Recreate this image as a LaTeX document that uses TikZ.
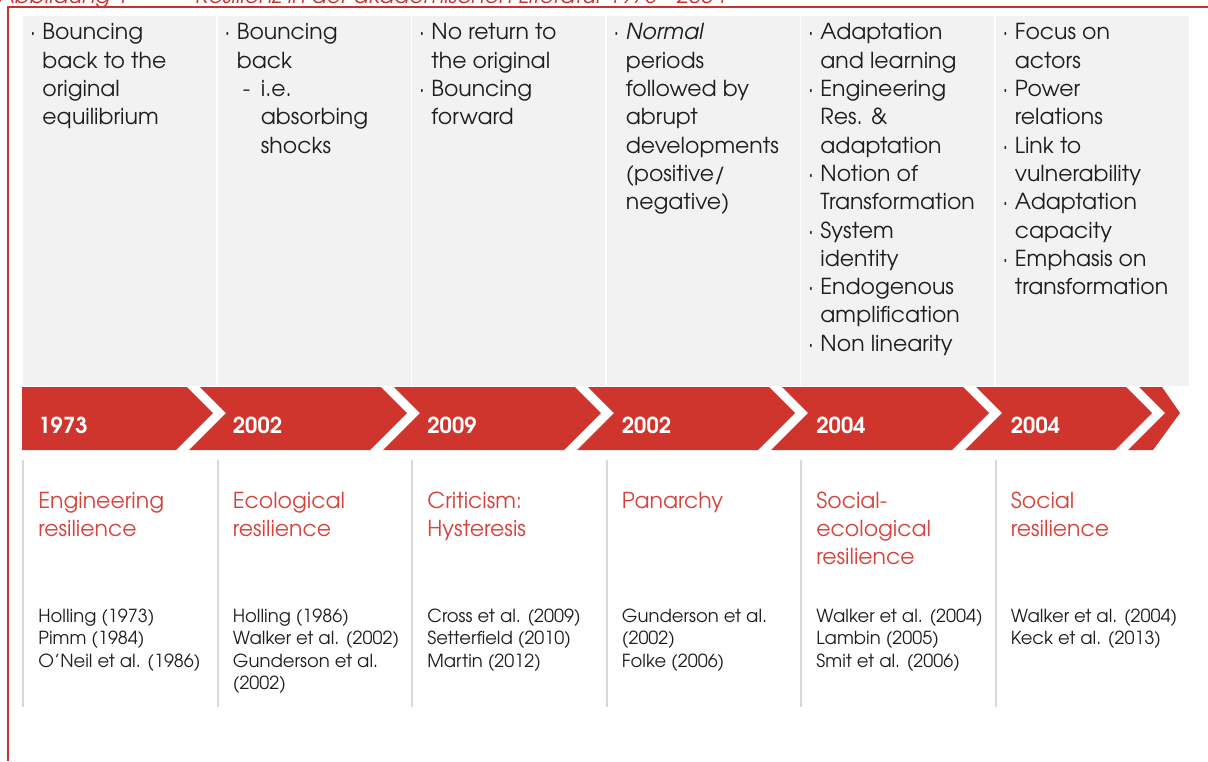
\documentclass[tikz,border=0pt]{standalone}
\usepackage{fontspec}
\setmainfont{texgyreadventor-regular.otf}[BoldFont=texgyreadventor-bold.otf,ItalicFont=texgyreadventor-italic.otf]
\usepackage{tikz}
\usetikzlibrary{calc}
\definecolor{bandred}{RGB}{207,52,45}
\definecolor{headred}{RGB}{214,66,60}
\definecolor{framered}{RGB}{196,52,50}
\definecolor{boxgrey}{RGB}{242,242,242}
\definecolor{rulegrey}{RGB}{217,217,217}
\definecolor{ink}{RGB}{30,30,30}
\newcommand{\bl}{\llap{\makebox[6pt][l]{·}}}
\newcommand{\ind}{\hspace*{12pt}}
\newcommand{\tightlines}{\lineskiplimit=-20pt\relax}

\begin{document}
\begin{tikzpicture}[x=0.5pt,y=-0.5pt,
  topcol/.style={anchor=north west,inner sep=0pt,align=left,text=ink,font=\fontsize{11}{14.15}\selectfont\tightlines},
  heading/.style={anchor=north west,inner sep=0pt,align=left,text=headred,font=\fontsize{11}{14}\selectfont\tightlines},
  refs/.style={anchor=north west,inner sep=0pt,align=left,text=ink,font=\fontsize{9}{11.15}\selectfont\tightlines},
  year/.style={anchor=base west,inner sep=0pt,text=white,font=\bfseries\fontsize{11}{13}\selectfont},
  band/.style={fill=bandred,draw=none}]
\useasboundingbox (0,0) rectangle (1208,761);
\begin{scope}
\clip (0,0) rectangle (1208,761);
\node[anchor=base west,inner sep=0pt,text=framered,font=\itshape\fontsize{11}{13}\selectfont] (fig) at (-2,3.5) {Abbildung 1};
\node[anchor=base west,inner sep=0pt,text=framered,font=\itshape\fontsize{11}{13}\selectfont] (title) at (195,3.5) {Resilienz in der akademischen Literatur 1973 - 2004};
\end{scope}
\draw[framered,line width=1pt] (8,761) -- (8,7) -- (1208,7);
% grey columns and rules
\foreach \i in {0,...,5} {
	\fill[boxgrey] (23+194.5*\i,16) rectangle ++(193,370);
	\draw[rulegrey,line width=1pt] (23+194.5*\i,460) -- ++(0,247);
}
% timeline band
\fill[band] (22,387) -- (187,387) -- (213,413) -- (176,450) -- (22,450) -- cycle;
\foreach \a/\b in {213/407,407/601,601/795,795/989,989/1152} {
	\fill[band] (\a-13,387) -- (\b-26,387) -- (\b,413) -- (\b-37,450) -- (\a-24,450) -- (\a+13,413) -- cycle;
}
\fill[band] (1139,387) -- (1162,387) -- (1180,413) -- (1153,450) -- (1128,450) -- (1165,413) -- cycle;
\foreach \y [count=\i from 0] in {1973,2002,2009,2002,2004,2004}
	\node[year] (year\i) at (38+194.5*\i,433) {\y};
% upper texts
\node[topcol] (top0) at (42,19.7) {\strut\bl Bouncing\\back to the\\original\\equilibrium};
\node[topcol] (top1) at (236.5,19.7) {\strut\bl Bouncing\\back\\\ind\llap{\makebox[9pt][l]{-}}i.e.\\\ind absorbing\\\ind shocks};
\node[topcol] (top2) at (431,19.7) {\strut\bl No return to\\the original\\\bl Bouncing\\forward};
\node[topcol] (top3) at (625.5,19.7) {\strut\bl \textit{Normal}\\periods\\followed by\\abrupt\\developments\\(positive/\\negative)};
\node[topcol] (top4) at (820,19.7) {\strut\bl Adaptation\\and learning\\\bl Engineering\\Res. \&\\adaptation\\\bl Notion of\\Transformation\\\bl System\\identity\\\bl Endogenous\\amplification\\\bl Non linearity};
\node[topcol] (top5) at (1014.5,19.7) {\strut\bl Focus on\\actors\\\bl Power\\relations\\\bl Link to\\vulnerability\\\bl Adaptation\\capacity\\\bl Emphasis on\\transformation};
% concepts
\node[heading] (head0) at (38,488.4) {\strut Engineering\\resilience};
\node[heading] (head1) at (232.5,488.4) {\strut Ecological\\resilience};
\node[heading] (head2) at (427,488.4) {\strut Criticism:\\Hysteresis};
\node[heading] (head3) at (621.5,488.4) {\strut Panarchy};
\node[heading] (head4) at (816,488.4) {\strut Social-\\ecological\\resilience};
\node[heading] (head5) at (1010.5,488.4) {\strut Social\\resilience};
% references
\node[refs] (refs0) at (38,606.4) {\strut Holling (1973)\\Pimm (1984)\\O’Neil et al. (1986)};
\node[refs] (refs1) at (232.5,606.4) {\strut Holling (1986)\\Walker et al. (2002)\\Gunderson et al.\\(2002)};
\node[refs] (refs2) at (427,606.4) {\strut Cross et al. (2009)\\Setterfield (2010)\\Martin (2012)};
\node[refs] (refs3) at (621.5,606.4) {\strut Gunderson et al.\\(2002)\\Folke (2006)};
\node[refs] (refs4) at (816,606.4) {\strut Walker et al. (2004)\\Lambin (2005)\\Smit et al. (2006)};
\node[refs] (refs5) at (1010.5,606.4) {\strut Walker et al. (2004)\\Keck et al. (2013)};
\end{tikzpicture}
\end{document}
